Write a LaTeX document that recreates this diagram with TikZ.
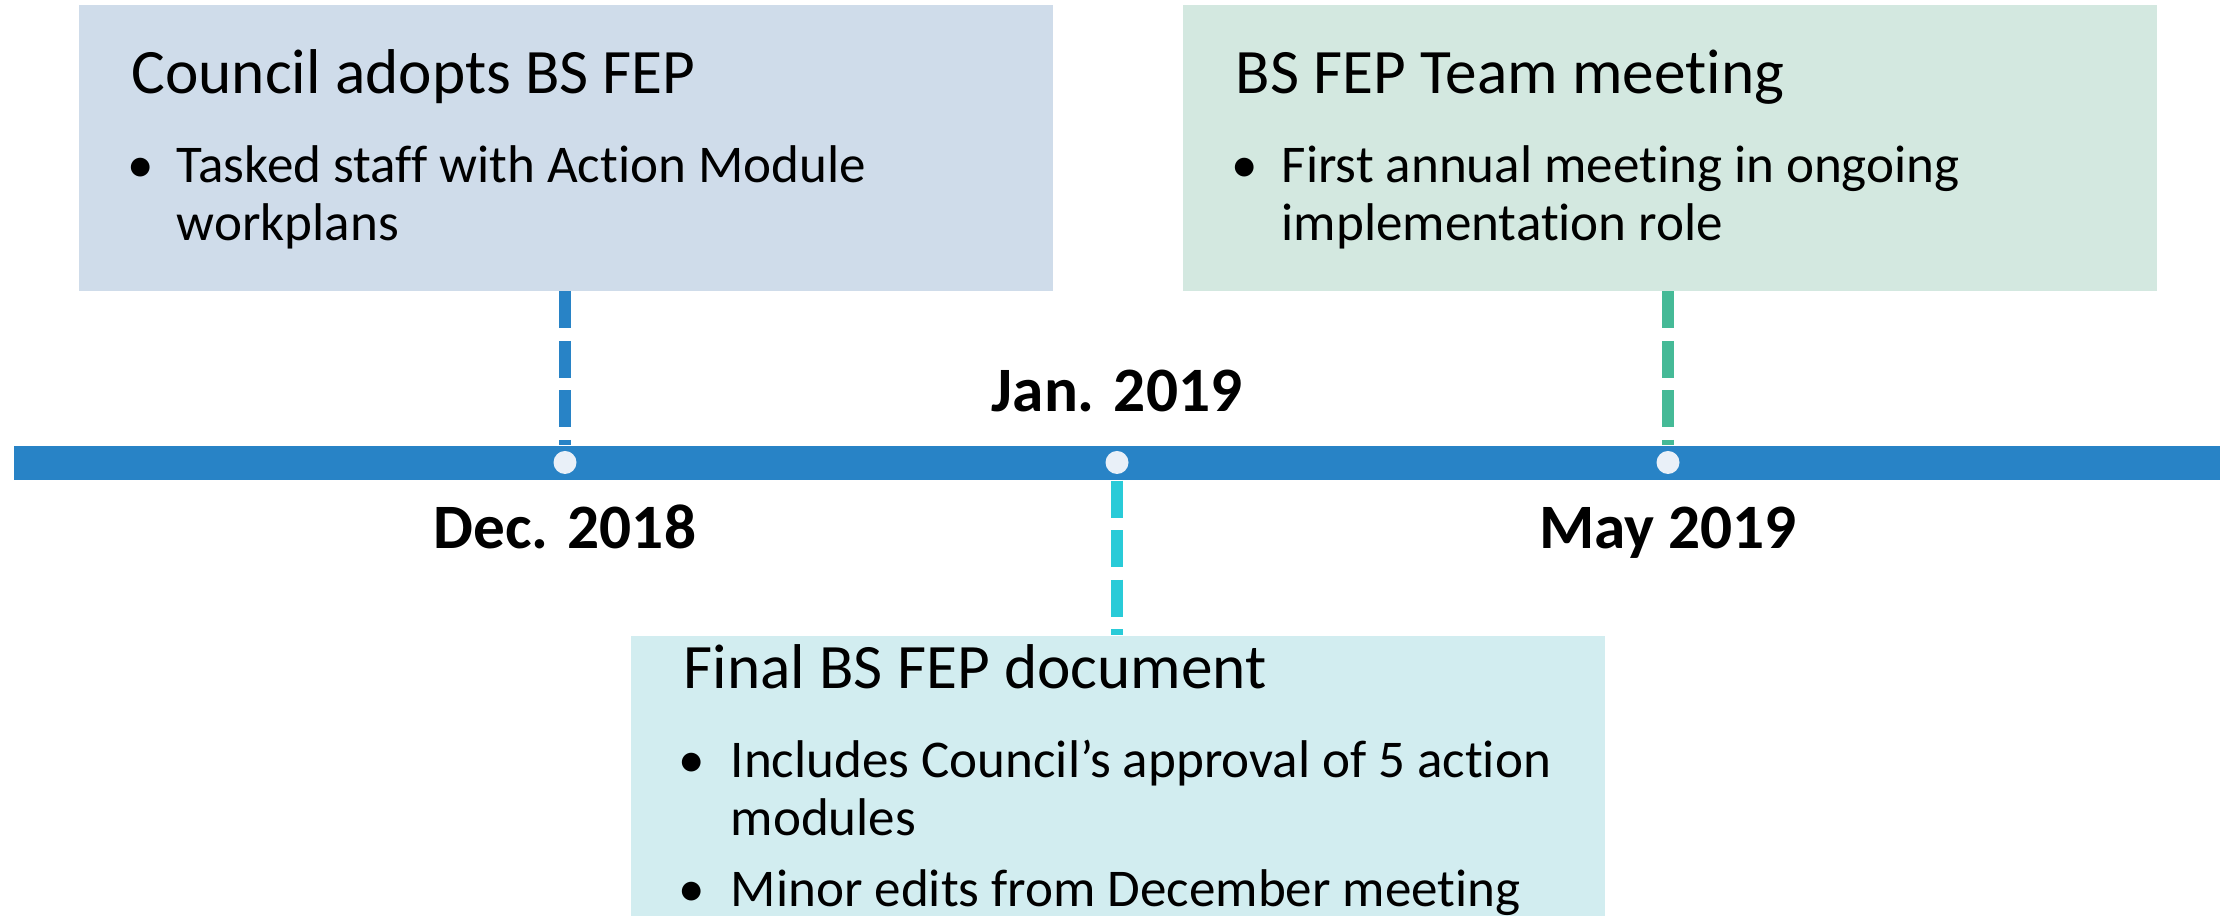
\documentclass[tikz,border=0pt]{standalone}
\usepackage{fontspec}
\setmainfont{Carlito}[Ligatures={NoCommon}]
\usepackage{tikz}
\usetikzlibrary{calc}
\usetikzlibrary{positioning}
\definecolor{barblue}{RGB}{40,131,198}
\definecolor{dotfill}{RGB}{233,240,248}
\definecolor{janline}{RGB}{41,203,216}
\definecolor{mayline}{RGB}{69,186,151}
\definecolor{adoptfill}{RGB}{207,220,234}
\definecolor{teamfill}{RGB}{211,232,224}
\definecolor{finalfill}{RGB}{210,237,240}
\tikzstyle{card} = [rectangle, inner sep=0pt, anchor=north west,
    minimum width=9.74cm, minimum height=2.86cm]
\tikzstyle{heading} = [inner sep=0pt, anchor=base west, font=\fontsize{18}{22}\selectfont]
\tikzstyle{point} = [inner sep=0pt, anchor=base west, text width=9cm, align=flush left,
    font=\fontsize{15.1}{16.5}\selectfont]
\tikzstyle{bull} = [inner sep=0pt, anchor=base, font=\fontsize{15.1}{16.5}\selectfont]
\tikzstyle{date} = [inner sep=0pt, anchor=base, font=\bfseries\fontsize{18}{22}\selectfont]
\tikzstyle{dot} = [circle, inner sep=0pt, minimum size=0.23cm, fill=dotfill]
\tikzstyle{leader} = [line width=0.12cm, dash pattern=on 0.37cm off 0.125cm]

\begin{document}
\begin{tikzpicture}
    \useasboundingbox (0,0) rectangle (22.33,9.16);

    % We start by placing the time line and its dates
    \node [fill=barblue, inner sep=0pt, minimum width=22.06cm, minimum height=0.34cm] (bar) at (11.17,4.53) {};
    \node [dot] (dec) at (5.65,4.535) {};
    \node [dot] (jan) at (11.17,4.535) {};
    \node [dot] (may) at (16.68,4.535) {};
    \node [date] (decL) at ($(dec)+(0,-0.865)$) {Dec. 2018};
    \node [date] (janL) at ($(jan)+(0,0.505)$) {Jan. 2019};
    \node [date] (mayL) at ($(may)+(0,-0.865)$) {May 2019};

    % Then the three cards
    \node [card, fill=adoptfill] (adopt) at (0.78,9.12) {};
    \node [heading] (adoptT) at ($(adopt.north west)+(0.53,-0.90)$) {Council adopts BS FEP};
    \node [bull] (adoptB) at ($(adopt.north west)+(0.63,-1.79)$) {•};
    \node [point] (adoptP) at ($(adopt.north west)+(0.98,-1.79)$) {Tasked staff with Action Module\\workplans};

    \node [card, fill=teamfill] (team) at (11.82,9.12) {};
    \node [heading] (teamT) at ($(team.north west)+(0.53,-0.90)$) {BS FEP Team meeting};
    \node [bull] (teamB) at ($(team.north west)+(0.63,-1.79)$) {•};
    \node [point] (teamP) at ($(team.north west)+(0.99,-1.79)$) {First annual meeting in ongoing\\implementation role};

    \node [card, fill=finalfill, minimum height=2.81cm] (final) at (6.30,2.81) {};
    \node [heading] (finalT) at ($(final.north west)+(0.53,-0.54)$) {Final BS FEP document};
    \node [bull] (finalB1) at ($(final.north west)+(0.62,-1.43)$) {•};
    \node [point] (finalP1) at ($(final.north west)+(1.00,-1.43)$) {Includes Council’s approval of 5 action\\modules};
    \node [bull] (finalB2) at ($(final.north west)+(0.62,-2.72)$) {•};
    \node [point] (finalP2) at ($(final.north west)+(1.00,-2.72)$) {Minor edits from December meeting};

    % Once the nodes are placed, the dashed leaders join cards and time line
    \draw [leader, draw=barblue] (adopt.south -| dec) -- (bar.north -| dec);
    \draw [leader, draw=janline] (bar.south -| jan) -- (final.north -| jan);
    \draw [leader, draw=mayline] (team.south -| may) -- (bar.north -| may);
\end{tikzpicture}
\end{document}
